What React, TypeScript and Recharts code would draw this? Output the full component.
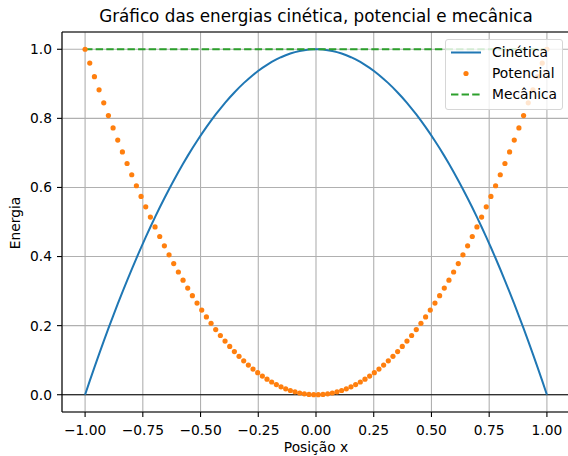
import React from 'react';
import {
  ComposedChart,
  Line,
  XAxis,
  YAxis,
  CartesianGrid,
  ReferenceLine,
} from 'recharts';

// Position x (100 samples from -1 to 1)
const posicao = [
  -1.0, -0.9798, -0.9596, -0.9394, -0.9192, -0.899, -0.8788, -0.8586, -0.8384, -0.8182,
  -0.798, -0.7778, -0.7576, -0.7374, -0.7172, -0.697, -0.6768, -0.6566, -0.6364, -0.6162,
  -0.596, -0.5758, -0.5556, -0.5354, -0.5152, -0.4949, -0.4747, -0.4545, -0.4343, -0.4141,
  -0.3939, -0.3737, -0.3535, -0.3333, -0.3131, -0.2929, -0.2727, -0.2525, -0.2323, -0.2121,
  -0.1919, -0.1717, -0.1515, -0.1313, -0.1111, -0.0909, -0.0707, -0.0505, -0.0303, -0.0101,
  0.0101, 0.0303, 0.0505, 0.0707, 0.0909, 0.1111, 0.1313, 0.1515, 0.1717, 0.1919,
  0.2121, 0.2323, 0.2525, 0.2727, 0.2929, 0.3131, 0.3333, 0.3535, 0.3737, 0.3939,
  0.4141, 0.4343, 0.4545, 0.4747, 0.4949, 0.5152, 0.5354, 0.5556, 0.5758, 0.596,
  0.6162, 0.6364, 0.6566, 0.6768, 0.697, 0.7172, 0.7374, 0.7576, 0.7778, 0.798,
  0.8182, 0.8384, 0.8586, 0.8788, 0.899, 0.9192, 0.9394, 0.9596, 0.9798, 1.0,
];

const cinetica = [
  0.0, 0.04, 0.0792, 0.1175, 0.1551, 0.1918, 0.2277, 0.2628, 0.2971, 0.3306,
  0.3632, 0.395, 0.4261, 0.4562, 0.4856, 0.5142, 0.542, 0.5689, 0.595, 0.6203,
  0.6448, 0.6685, 0.6914, 0.7134, 0.7346, 0.755, 0.7747, 0.7934, 0.8114, 0.8285,
  0.8448, 0.8603, 0.875, 0.8889, 0.902, 0.9142, 0.9256, 0.9362, 0.946, 0.955,
  0.9632, 0.9705, 0.977, 0.9828, 0.9877, 0.9917, 0.995, 0.9974, 0.9991, 0.9999,
  0.9999, 0.9991, 0.9974, 0.995, 0.9917, 0.9877, 0.9828, 0.977, 0.9705, 0.9632,
  0.955, 0.946, 0.9362, 0.9256, 0.9142, 0.902, 0.8889, 0.875, 0.8603, 0.8448,
  0.8285, 0.8114, 0.7934, 0.7747, 0.755, 0.7346, 0.7134, 0.6914, 0.6685, 0.6448,
  0.6203, 0.595, 0.5689, 0.542, 0.5142, 0.4856, 0.4562, 0.4261, 0.395, 0.3632,
  0.3306, 0.2971, 0.2628, 0.2277, 0.1918, 0.1551, 0.1175, 0.0792, 0.04, 0.0,
];

const potencial = [
  1.0, 0.96, 0.9208, 0.8825, 0.8449, 0.8082, 0.7723, 0.7372, 0.7029, 0.6694,
  0.6368, 0.605, 0.5739, 0.5438, 0.5144, 0.4858, 0.458, 0.4311, 0.405, 0.3797,
  0.3552, 0.3315, 0.3086, 0.2866, 0.2654, 0.245, 0.2253, 0.2066, 0.1886, 0.1715,
  0.1552, 0.1397, 0.125, 0.1111, 0.098, 0.0858, 0.0744, 0.0638, 0.054, 0.045,
  0.0368, 0.0295, 0.023, 0.0172, 0.0123, 0.0083, 0.005, 0.0026, 0.0009, 0.0001,
  0.0001, 0.0009, 0.0026, 0.005, 0.0083, 0.0123, 0.0172, 0.023, 0.0295, 0.0368,
  0.045, 0.054, 0.0638, 0.0744, 0.0858, 0.098, 0.1111, 0.125, 0.1397, 0.1552,
  0.1715, 0.1886, 0.2066, 0.2253, 0.245, 0.2654, 0.2866, 0.3086, 0.3315, 0.3552,
  0.3797, 0.405, 0.4311, 0.458, 0.4858, 0.5144, 0.5438, 0.5739, 0.605, 0.6368,
  0.6694, 0.7029, 0.7372, 0.7723, 0.8082, 0.8449, 0.8825, 0.9208, 0.96, 1.0,
];

const mecanicaX = [-1.0, 1.0];
const mecanicaY = [1.0, 1.0];

const xTicks = [-1, -0.75, -0.5, -0.25, 0, 0.25, 0.5, 0.75, 1];
const yTicks = [0, 0.2, 0.4, 0.6, 0.8, 1.0];

const title = 'Gráfico das energias cinética, potencial e mecânica';
const xLabel = 'Posição x';
const yLabel = 'Energia';
const legendNames = ['Cinética', 'Potencial', 'Mecânica'];

const BLUE = '#1f77b4';
const ORANGE = '#ff7f0e';
const GREEN = '#2ca02c';
const FONT = '"DejaVu Sans", sans-serif';
const FS = 13.8;

const rows = posicao.map((x, i) => ({ x, kin: cinetica[i], pot: potencial[i] }));
const mecRows = mecanicaX.map((x, i) => ({ x, mec: mecanicaY[i] }));

const fmtX = (v: number) => {
  const s = Math.abs(v).toFixed(2);
  return v < 0 ? '\u2212' + s : s;
};
const fmtY = (v: number) => v.toFixed(1);

const tickStyle = { fill: '#000', fontSize: FS, fontFamily: FONT };

export default function App() {
  return (
    <div
      style={{
        position: 'absolute',
        left: 0,
        top: 0,
        width: 568,
        height: 456,
        overflow: 'hidden',
        background: '#fff',
        fontFamily: FONT,
      }}
    >
      <ComposedChart
        width={572}
        height={456}
        data={rows}
        margin={{ top: 32, right: 2, bottom: 0, left: 0 }}
      >
        <CartesianGrid stroke="#b0b0b0" strokeWidth={1.1} />
        <XAxis
          type="number"
          dataKey="x"
          domain={[-1.1, 1.1]}
          ticks={xTicks}
          tickFormatter={fmtX}
          allowDataOverflow
          height={44}
          tickSize={5}
          tickMargin={8}
          tick={tickStyle}
          axisLine={{ stroke: '#000', strokeWidth: 1.1 }}
          tickLine={{ stroke: '#000', strokeWidth: 1.1 }}
          interval={0}
        />
        <YAxis
          type="number"
          domain={[-0.05, 1.05]}
          ticks={yTicks}
          tickFormatter={fmtY}
          allowDataOverflow
          width={62}
          tickSize={5}
          tickMargin={5}
          tick={tickStyle}
          axisLine={{ stroke: '#000', strokeWidth: 1.1 }}
          tickLine={{ stroke: '#000', strokeWidth: 1.1 }}
          interval={0}
        />
        <ReferenceLine y={1.05} stroke="#000" strokeWidth={1.1} />
        <ReferenceLine y={0} stroke="#000" strokeWidth={1.1} />
        <Line
          dataKey="kin"
          type="linear"
          stroke={BLUE}
          strokeWidth={2}
          dot={false}
          activeDot={false}
          isAnimationActive={false}
        />
        <Line
          dataKey="pot"
          type="linear"
          stroke="none"
          strokeWidth={0}
          dot={{ r: 2.6, fill: ORANGE, stroke: 'none' }}
          activeDot={false}
          isAnimationActive={false}
        />
        <Line
          data={mecRows}
          dataKey="mec"
          type="linear"
          stroke={GREEN}
          strokeWidth={2}
          strokeDasharray="7.4 3.2"
          dot={false}
          activeDot={false}
          isAnimationActive={false}
        />
      </ComposedChart>

      {/* Title */}
      <div
        style={{
          position: 'absolute',
          left: 0,
          width: 632,
          top: 6,
          textAlign: 'center',
          fontSize: 16.8,
          lineHeight: '20px',
          color: '#000',
          whiteSpace: 'nowrap',
        }}
      >
        {title}
      </div>

      {/* X label */}
      <div
        style={{
          position: 'absolute',
          left: 0,
          width: 632,
          top: 439,
          textAlign: 'center',
          fontSize: FS,
          lineHeight: '17px',
          color: '#000',
          whiteSpace: 'nowrap',
        }}
      >
        {xLabel}
      </div>

      {/* Y label */}
      <div
        style={{
          position: 'absolute',
          left: 15,
          top: 223,
          transform: 'translate(-50%, -50%) rotate(-90deg)',
          fontSize: FS,
          lineHeight: '17px',
          color: '#000',
          whiteSpace: 'nowrap',
        }}
      >
        {yLabel}
      </div>

      {/* Legend */}
      <div
        style={{
          position: 'absolute',
          left: 445,
          top: 39,
          width: 118,
          height: 71,
          border: '1px solid #d6d6d6',
          borderRadius: 3,
          background: 'rgba(255,255,255,0.8)',
          boxSizing: 'border-box',
        }}
      >
        {legendNames.map((name, i) => (
          <div
            key={name}
            style={{
              position: 'absolute',
              left: 0,
              top: 2 + i * 20.8,
              height: 21,
              width: 118,
            }}
          >
            <svg width={40} height={21} style={{ position: 'absolute', left: 0, top: 0 }}>
              {i === 0 && <line x1={5} x2={35} y1={10.5} y2={10.5} stroke={BLUE} strokeWidth={2} />}
              {i === 1 && <circle cx={20} cy={10.5} r={2.6} fill={ORANGE} />}
              {i === 2 && (
                <line
                  x1={5}
                  x2={35}
                  y1={10.5}
                  y2={10.5}
                  stroke={GREEN}
                  strokeWidth={2}
                  strokeDasharray="7.4 3.2"
                />
              )}
            </svg>
            <span
              style={{
                position: 'absolute',
                left: 46,
                top: 2,
                fontSize: FS,
                lineHeight: '17px',
                color: '#000',
                whiteSpace: 'nowrap',
              }}
            >
              {name}
            </span>
          </div>
        ))}
      </div>
    </div>
  );
}
